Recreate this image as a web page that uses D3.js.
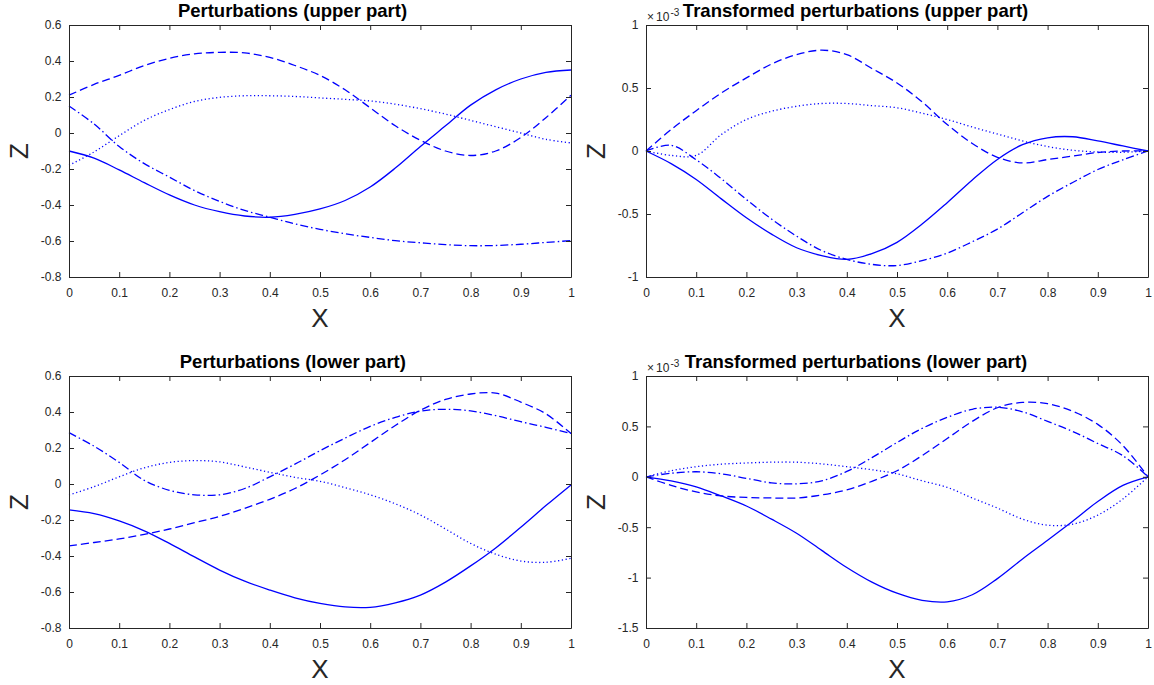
<!DOCTYPE html>
<html>
<head>
<meta charset="utf-8">
<script src="https://cdn.jsdelivr.net/npm/d3@7"></script>
<style>
  body { margin: 0; background: #fff; }
  svg { display: block; font-family: "Liberation Sans", Arial, sans-serif; }
</style>
</head>
<body>
<svg id="chart" width="1154" height="685"></svg>
<script>
// x positions shared by every curve
const xs = [0, 0.05, 0.1, 0.15, 0.2, 0.25, 0.3, 0.35, 0.4, 0.45, 0.5,
  0.55, 0.6, 0.65, 0.7, 0.75, 0.8, 0.85, 0.9, 0.95, 1]
const xTicks = [0, 0.1, 0.2, 0.3, 0.4, 0.5, 0.6, 0.7, 0.8, 0.9, 1]

// perturbations, upper part
const upperSolid = [-0.10, -0.14, -0.205, -0.276, -0.344, -0.40, -0.437, -0.461, -0.468, -0.452, -0.422,
  -0.375, -0.30, -0.195, -0.075, 0.04, 0.155, 0.24, 0.30, 0.337, 0.35]
const upperDashed = [0.21, 0.27, 0.32, 0.375, 0.415, 0.44, 0.448, 0.445, 0.42, 0.375, 0.32,
  0.24, 0.14, 0.04, -0.04, -0.10, -0.125, -0.10, -0.025, 0.085, 0.21]
const upperDotted = [-0.18, -0.105, -0.015, 0.07, 0.13, 0.175, 0.198, 0.207, 0.207, 0.203, 0.195,
  0.187, 0.178, 0.16, 0.135, 0.105, 0.07, 0.035, 0.0, -0.035, -0.055]
const upperDashDot = [0.15, 0.05, -0.075, -0.17, -0.245, -0.32, -0.38, -0.43, -0.468, -0.505, -0.535,
  -0.56, -0.58, -0.598, -0.61, -0.62, -0.626, -0.625, -0.618, -0.608, -0.598]
const upperTicks = [-0.8, -0.6, -0.4, -0.2, 0, 0.2, 0.4, 0.6]

// transformed perturbations, upper part (x 1e-3)
const tUpperSolid = [0, -0.1, -0.226, -0.38, -0.53, -0.66, -0.768, -0.83, -0.86, -0.815, -0.725,
  -0.58, -0.41, -0.23, -0.067, 0.05, 0.105, 0.113, 0.08, 0.04, 0]
const tUpperDashed = [0, 0.17, 0.32, 0.46, 0.58, 0.69, 0.765, 0.80, 0.765, 0.655, 0.54,
  0.39, 0.21, 0.06, -0.05, -0.095, -0.068, -0.04, -0.012, 0.0, 0]
const tUpperDotted = [0, -0.035, -0.035, 0.13, 0.25, 0.315, 0.355, 0.377, 0.377, 0.36, 0.343,
  0.30, 0.25, 0.19, 0.135, 0.08, 0.035, 0.006, -0.008, -0.01, 0]
const tUpperDashDot = [0, 0.045, -0.07, -0.22, -0.385, -0.54, -0.676, -0.79, -0.86, -0.9, -0.909,
  -0.87, -0.81, -0.72, -0.62, -0.49, -0.36, -0.25, -0.147, -0.07, 0]
const tUpperTicks = [-1, -0.5, 0, 0.5, 1]

// perturbations, lower part
const lowerSolid = [-0.144, -0.165, -0.205, -0.26, -0.33, -0.405, -0.478, -0.54, -0.589, -0.632, -0.663,
  -0.683, -0.685, -0.66, -0.617, -0.545, -0.455, -0.355, -0.24, -0.12, -0.005]
const lowerDashed = [-0.344, -0.325, -0.305, -0.28, -0.25, -0.215, -0.18, -0.135, -0.085, -0.025, 0.05,
  0.135, 0.23, 0.325, 0.41, 0.47, 0.5, 0.505, 0.455, 0.39, 0.28]
const lowerDotted = [-0.061, -0.015, 0.04, 0.09, 0.12, 0.13, 0.123, 0.095, 0.065, 0.037, 0.015,
  -0.02, -0.06, -0.11, -0.172, -0.25, -0.33, -0.39, -0.428, -0.435, -0.413]
const lowerDashDot = [0.285, 0.21, 0.12, 0.02, -0.035, -0.06, -0.06, -0.025, 0.04, 0.11, 0.185,
  0.255, 0.32, 0.37, 0.405, 0.415, 0.406, 0.38, 0.346, 0.315, 0.281]
const lowerTicks = [-0.8, -0.6, -0.4, -0.2, 0, 0.2, 0.4, 0.6]

// transformed perturbations, lower part (x 1e-3)
const tLowerSolid = [0, -0.04, -0.1, -0.19, -0.29, -0.42, -0.56, -0.73, -0.9, -1.045, -1.155,
  -1.225, -1.24, -1.17, -1.01, -0.815, -0.63, -0.44, -0.245, -0.085, 0]
const tLowerDashed = [0, -0.085, -0.15, -0.19, -0.205, -0.21, -0.21, -0.18, -0.13, -0.045, 0.06,
  0.21, 0.38, 0.55, 0.685, 0.738, 0.725, 0.65, 0.52, 0.31, 0]
const tLowerDotted = [0, 0.06, 0.1, 0.125, 0.137, 0.145, 0.145, 0.128, 0.1, 0.07, 0.03,
  -0.04, -0.105, -0.21, -0.31, -0.42, -0.48, -0.47, -0.38, -0.22, 0]
const tLowerDashDot = [0, 0.035, 0.05, 0.03, -0.015, -0.06, -0.07, -0.04, 0.053, 0.19, 0.34,
  0.48, 0.59, 0.67, 0.69, 0.645, 0.55, 0.45, 0.33, 0.21, 0]
const tLowerTicks = [-1.5, -1, -0.5, 0, 0.5, 1]

const panels = [
  { title: 'Perturbations (upper part)', col: 0, row: 0, yTicks: upperTicks, exp: false,
    series: [upperSolid, upperDashed, upperDotted, upperDashDot] },
  { title: 'Transformed perturbations (upper part)', col: 1, row: 0, yTicks: tUpperTicks, exp: true,
    series: [tUpperSolid, tUpperDashed, tUpperDotted, tUpperDashDot] },
  { title: 'Perturbations (lower part)', col: 0, row: 1, yTicks: lowerTicks, exp: false,
    series: [lowerSolid, lowerDashed, lowerDotted, lowerDashDot] },
  { title: 'Transformed perturbations (lower part)', col: 1, row: 1, yTicks: tLowerTicks, exp: true,
    series: [tLowerSolid, tLowerDashed, tLowerDotted, tLowerDashDot] }
]

const colLeft = [69, 646]
const rowTop = [25, 376]
const boxW = 502
const boxH = 252
const axisColor = '#262626'
const lineColor = '#0000ff'
const dashes = [null, '8,4', '1.2,2.6', '8,3,1.5,3']

const svg = d3.select('#chart')
const fmt = v => String(+v.toFixed(2))

panels.forEach(p => {
  const g = svg.append('g')
    .attr('transform', `translate(${colLeft[p.col]},${rowTop[p.row]})`)

  const x = d3.scaleLinear().domain([0, 1]).range([0, boxW])
  const y = d3.scaleLinear().domain(d3.extent(p.yTicks)).range([boxH, 0])

  // curves first, axes drawn on top
  const line = d3.line()
    .x((d, i) => x(xs[i]))
    .y(d => y(d))
    .curve(d3.curveCatmullRom.alpha(0.5))

  p.series.forEach((s, i) => {
    g.append('path')
      .datum(s)
      .attr('fill', 'none')
      .attr('stroke', lineColor)
      .attr('stroke-width', 1.3)
      .attr('stroke-dasharray', dashes[i])
      .attr('d', line)
  })

  const styleAxis = sel => {
    sel.select('.domain').attr('stroke', axisColor)
    sel.selectAll('.tick line').attr('stroke', axisColor)
    sel.selectAll('.tick text').attr('fill', axisColor)
      .attr('font-size', 12).attr('font-family', '"Liberation Sans", Arial, sans-serif')
  }

  g.append('g').attr('transform', `translate(0,${boxH})`)
    .call(d3.axisBottom(x).tickValues(xTicks).tickFormat(fmt).tickSize(-5).tickSizeOuter(0).tickPadding(11.5))
    .call(styleAxis)
  g.append('g')
    .call(d3.axisTop(x).tickValues(xTicks).tickFormat('').tickSize(-5).tickSizeOuter(0))
    .call(styleAxis)
  g.append('g')
    .call(d3.axisLeft(y).tickValues(p.yTicks).tickFormat(fmt).tickSize(-5).tickSizeOuter(0).tickPadding(7.5))
    .call(styleAxis)
  g.append('g').attr('transform', `translate(${boxW},0)`)
    .call(d3.axisRight(y).tickValues(p.yTicks).tickFormat('').tickSize(-5).tickSizeOuter(0))
    .call(styleAxis)

  // axis labels
  g.append('text')
    .attr('x', boxW / 2).attr('y', boxH + 50)
    .attr('text-anchor', 'middle')
    .attr('font-size', 26).attr('fill', axisColor)
    .text('X')
  g.append('text')
    .attr('transform', `translate(-41,${boxH / 2}) rotate(-90)`)
    .attr('text-anchor', 'middle')
    .attr('font-size', 26).attr('fill', axisColor)
    .text('Z')

  // exponent for the transformed panels
  if (p.exp) {
    const t = g.append('text')
      .attr('x', 1).attr('y', -4)
      .attr('font-size', 12).attr('fill', axisColor)
    t.append('tspan').text('\u00d7')
    t.append('tspan').attr('dx', 2).text('10')
    t.append('tspan').attr('dx', 1).attr('font-size', 10).attr('dy', -5).text('-3')
  }

  // title: Octave places it a little left of centre
  const title = g.append('text')
    .attr('y', -8.5)
    .attr('font-size', 18.5).attr('font-weight', 'bold').attr('fill', '#000')
    .text(p.title)
  const w = title.node().getComputedTextLength()
  title.attr('x', boxW / 2 - 1.24 * w / 2)
})
</script>
</body>
</html>
